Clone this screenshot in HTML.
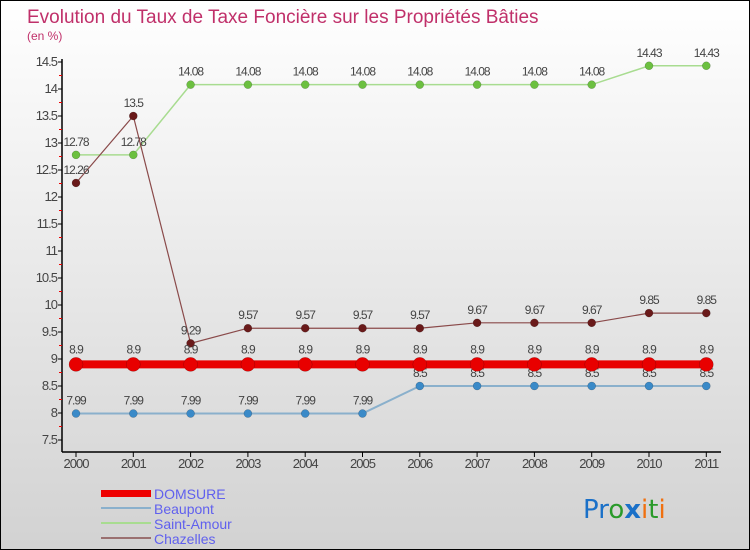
<!DOCTYPE html>
<html><head><meta charset="utf-8"><style>
body{margin:0}
#c{position:relative;width:748px;height:548px;border:1px solid #000;background:linear-gradient(#ffffff,#d2d2d2);overflow:hidden;font-family:"Liberation Sans",sans-serif}
</style></head><body>
<div id="c">
<svg id="s" width="748" height="548" style="position:absolute;left:0;top:0">
<text x="26" y="22" font-size="19" fill="#c0306a">Evolution du Taux de Taxe Foncière sur les Propriétés Bâties</text>
<text x="26" y="39" font-size="12" fill="#c0306a">(en %)</text>
<g id="g"></g>
<g>
<rect x="100" y="489" width="50" height="7" fill="#e00"/>
<text x="153" y="498" font-size="14" fill="#6060ee">DOMSURE</text>
<line x1="100" y1="507" x2="150" y2="507" stroke="#8ab0cc" stroke-width="2"/>
<text x="153" y="513" font-size="14" fill="#6060ee">Beaupont</text>
<line x1="100" y1="522" x2="150" y2="522" stroke="#a8dc90" stroke-width="2"/>
<text x="153" y="528" font-size="14" fill="#6060ee">Saint-Amour</text>
<line x1="100" y1="537" x2="150" y2="537" stroke="#9a7070" stroke-width="2"/>
<text x="153" y="543" font-size="14" fill="#6060ee">Chazelles</text>
</g>
<text x="582" y="517" font-size="26" font-family="'DejaVu Sans',sans-serif"><tspan fill="#1a70c8">Pr</tspan><tspan fill="#2a9a2a">o</tspan><tspan fill="#1a70c8" font-weight="bold">x</tspan><tspan fill="#f07010">i</tspan><tspan fill="#2a9a2a">t</tspan><tspan fill="#f07010">i</tspan></text>
</svg>
</div>
<script>
const years=["2000","2001","2002","2003","2004","2005","2006","2007","2008","2009","2010","2011"];
const domsure=[8.9,8.9,8.9,8.9,8.9,8.9,8.9,8.9,8.9,8.9,8.9,8.9];
const beaupont=[7.99,7.99,7.99,7.99,7.99,7.99,8.5,8.5,8.5,8.5,8.5,8.5];
const saintAmour=[12.78,12.78,14.08,14.08,14.08,14.08,14.08,14.08,14.08,14.08,14.43,14.43];
const chazelles=[12.26,13.5,9.29,9.57,9.57,9.57,9.57,9.67,9.67,9.67,9.85,9.85];
const yTicks=[7.5,8,8.5,9,9.5,10,10.5,11,11.5,12,12.5,13,13.5,14,14.5];
const NS="http://www.w3.org/2000/svg";
const g=document.getElementById('g');
const X=i=>75+i*57.3;
const Y=v=>439-(v-7.5)*54;
function mk(t,a){const e=document.createElementNS(NS,t);for(const k in a)e.setAttribute(k,a[k]);g.appendChild(e);return e;}
let e=mk('line',{x1:61,y1:58,x2:61,y2:451,stroke:'#000','stroke-width':1.5});


e=mk('line',{x1:61,y1:451,x2:720,y2:451,stroke:'#000','stroke-width':1.5});


yTicks.forEach((v,i)=>{
 mk('line',{x1:57,y1:Y(v),x2:61,y2:Y(v),stroke:'#000'});
 if(i<yTicks.length-1) mk('line',{x1:58,y1:Y(v+0.25),x2:61,y2:Y(v+0.25),stroke:'#e00'});
 const t=mk('text',{x:56,y:Y(v)+4,'font-size':13,fill:'#444','text-anchor':'end','letter-spacing':'-1'});
 t.textContent=String(v);
 
 
});
years.forEach((y,i)=>{
 mk('line',{x1:X(i),y1:451,x2:X(i),y2:456,stroke:'#000'});
 const t=mk('text',{x:X(i),y:467,'font-size':13,fill:'#444','text-anchor':'middle','letter-spacing':'-1'});
 t.textContent=y;
 
 
});
function series(name,vals,color,lw,ptc,r,labOff){
 const p=mk('polyline',{points:vals.map((v,i)=>X(i)+','+Y(v)).join(' '),fill:'none',stroke:color,'stroke-width':lw});
 
 
 vals.forEach((v,i)=>{
  const c=mk('circle',{cx:X(i),cy:Y(v),r:r,fill:ptc,stroke:'rgba(0,0,0,0.3)','stroke-width':0.5});
  
  
  const t=mk('text',{x:X(i),y:Y(v)-labOff,'font-size':12,fill:'#444','text-anchor':'middle','letter-spacing':'-1'});
  t.textContent=String(v);
  
  
 });
}
series('saint-amour',saintAmour,'#a8dc90',1.5,'#6cc040',4,9);
series('chazelles',chazelles,'#8a4a4a',1.2,'#6a1a1a',4,9);
series('beaupont',beaupont,'#8ab0cc',2,'#3a8ac8',4,9);
series('domsure',domsure,'#e80000',8,'#e80000',7,11);
</script>
</body></html>
